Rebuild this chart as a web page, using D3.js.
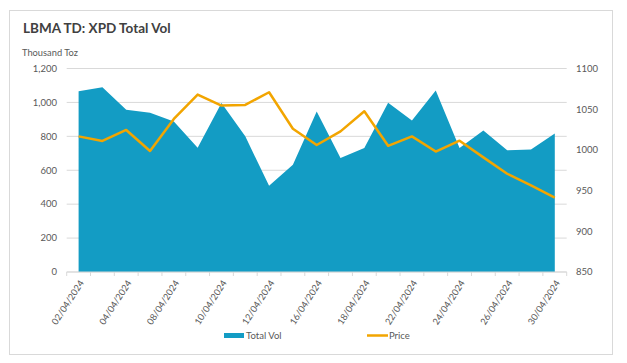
<!DOCTYPE html>
<html><head><meta charset="utf-8">
<script src="https://cdn.jsdelivr.net/npm/d3@7"></script>
<style>
body{margin:0;background:#fff;}
svg{display:block;font-family:Lato,"Open Sans",sans-serif;}
</style></head>
<body><svg id="c" width="627" height="363"></svg>
<script>
const dates = ["02/04/2024","03/04/2024","04/04/2024","05/04/2024","08/04/2024","09/04/2024","10/04/2024","11/04/2024","12/04/2024","15/04/2024","16/04/2024","17/04/2024","18/04/2024","19/04/2024","22/04/2024","23/04/2024","24/04/2024","25/04/2024","26/04/2024","29/04/2024","30/04/2024"];
const totalVol = [1066,1090,957,939,888,733,996,800,508,633,947,672,731,998,894,1071,731,835,718,722,816];
const price = [1016.6,1011,1024.5,998.6,1038,1068,1054.4,1055.3,1070.8,1026,1006,1022.8,1047.4,1005,1016.6,998,1011.3,990.8,970.7,956.3,941.5];
const leftTicks = [0,200,400,600,800,1000,1200];
const rightTicks = [850,900,950,1000,1050,1100];

const svg = d3.select("#c");
svg.append("rect").attr("x",9.5).attr("y",10.5).attr("width",603).attr("height",344)
  .attr("fill","#fff").attr("stroke","#d9d9d9").attr("stroke-width",1);

const L=66.7,R=566.7,T=68.5,B=272;
const x = d3.scaleBand().domain(dates).range([L,R]);
const xc = d => x(d)+x.bandwidth()/2;
const yL = d3.scaleLinear().domain([0,1200]).range([B,T]);
const yR = d3.scaleLinear().domain([850,1100]).range([B,T]);

// grid
svg.append("g").selectAll("line").data(leftTicks).join("line")
  .attr("x1",L).attr("x2",R).attr("y1",d=>yL(d)).attr("y2",d=>yL(d))
  .attr("stroke","#d9d9d9").attr("stroke-width",1);

// area
const area = d3.area().x((d,i)=>xc(dates[i])).y0(yL(0)).y1(d=>yL(d));
svg.append("path").datum(totalVol).attr("d",area).attr("fill","#139CC4");

// price line
const line = d3.line().x((d,i)=>xc(dates[i])).y(d=>yR(d));
svg.append("path").datum(price).attr("d",line).attr("fill","none")
  .attr("stroke","#F2A500").attr("stroke-width",2.5).attr("stroke-linejoin","round");

// x axis
const xAxis = svg.append("g").attr("transform",`translate(0,${B})`);
xAxis.append("line").attr("x1",L).attr("x2",R).attr("stroke","#d9d9d9");
const bounds = dates.map(d=>x(d)).concat([R]);
xAxis.selectAll(".tk").data(bounds).join("line").attr("class","tk")
  .attr("x1",d=>d).attr("x2",d=>d).attr("y1",0).attr("y2",4).attr("stroke","#d9d9d9");
xAxis.selectAll("text").data(dates.filter((d,i)=>i%2===0)).join("text")
  .attr("transform",d=>`translate(${xc(d)+3},${9}) rotate(-57)`)
  .attr("text-anchor","end").attr("dy","0.35em")
  .attr("font-size",9.2).attr("fill","#595959").text(d=>d);

// left axis labels
svg.append("g").selectAll("text").data(leftTicks).join("text")
  .attr("x",57).attr("y",d=>yL(d)).attr("dy","0.35em").attr("text-anchor","end")
  .attr("font-size",9.5).attr("fill","#595959").text(d=>d3.format(",")(d));
// right axis labels
svg.append("g").selectAll("text").data(rightTicks).join("text")
  .attr("x",576).attr("y",d=>yR(d)).attr("dy","0.35em").attr("text-anchor","start")
  .attr("font-size",9.5).attr("fill","#595959").text(d=>d);

// title
svg.append("text").attr("x",23).attr("y",33).attr("font-size",13.5).attr("font-weight","bold")
  .attr("fill","#404040").text("LBMA TD: XPD Total Vol");
svg.append("text").attr("x",22).attr("y",56).attr("font-size",9.3).attr("fill","#595959").text("Thousand Toz");

// legend
const lg = svg.append("g");
lg.append("rect").attr("x",224).attr("y",333).attr("width",20).attr("height",5).attr("fill","#139CC4");
lg.append("text").attr("x",246).attr("y",336).attr("dy","0.35em").attr("font-size",9.5).attr("fill","#595959").text("Total Vol");
lg.append("line").attr("x1",367).attr("x2",388).attr("y1",335.5).attr("y2",335.5).attr("stroke","#F2A500").attr("stroke-width",2.5);
lg.append("text").attr("x",389).attr("y",336).attr("dy","0.35em").attr("font-size",9.5).attr("fill","#595959").text("Price");
</script></body></html>
